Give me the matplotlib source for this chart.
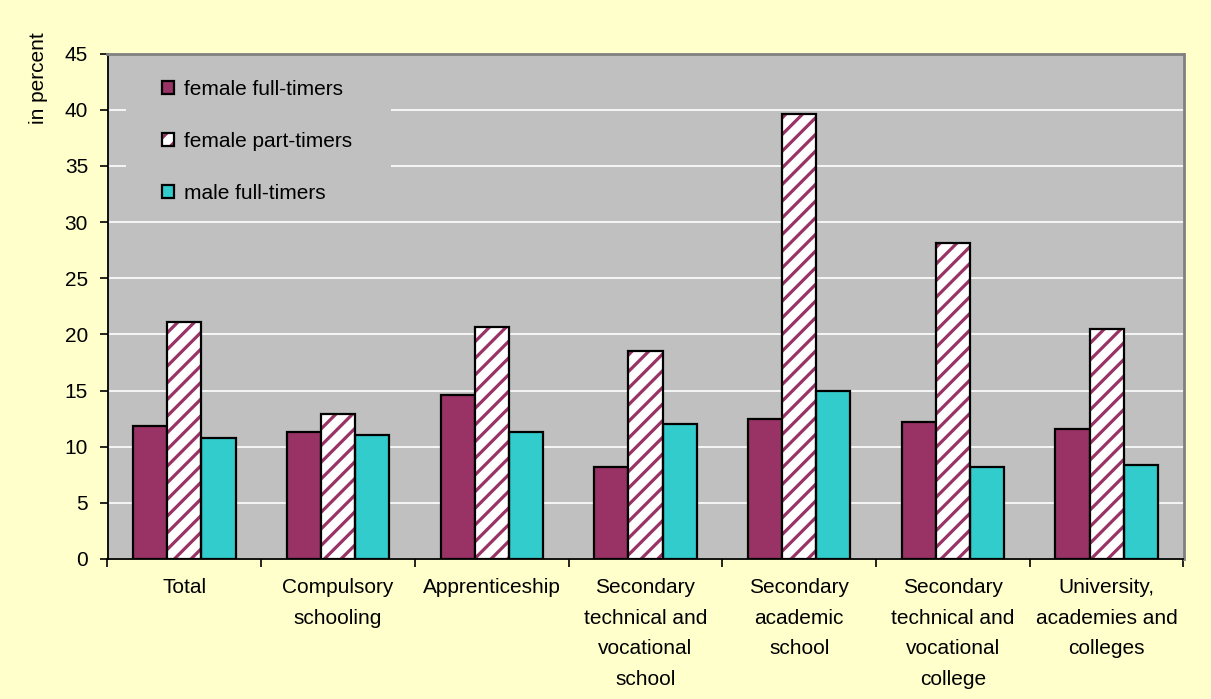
import matplotlib
matplotlib.use("Agg")
import matplotlib.pyplot as plt
import numpy as np
from matplotlib.legend_handler import HandlerTuple
from matplotlib.patches import Rectangle

categories = [
    "Total",
    "Compulsory\nschooling",
    "Apprenticeship",
    "Secondary\ntechnical and\nvocational\nschool",
    "Secondary\nacademic\nschool",
    "Secondary\ntechnical and\nvocational\ncollege",
    "University,\nacademies and\ncolleges",
]
female_full = [11.8, 11.3, 14.6, 8.2, 12.5, 12.2, 11.6]
female_part = [21.1, 12.9, 20.7, 18.5, 39.6, 28.1, 20.5]
male_full = [10.8, 11.0, 11.3, 12.0, 15.0, 8.2, 8.4]
series_labels = ["female full-timers", "female part-timers", "male full-timers"]

plum = "#993366"
teal = "#33CCCC"
plot_bg = "#C0C0C0"
page_bg = "#FFFFCC"

plt.rcParams["font.family"] = ["Liberation Sans", "DejaVu Sans"]
plt.rcParams["hatch.linewidth"] = 2.3
fs = 15

fig = plt.figure(figsize=(12.11, 6.99), dpi=100, facecolor=page_bg)
W, H = 1211, 699
ax = fig.add_axes([107.5 / W, 1 - 559 / H, (1183.5 - 107.5) / W, (559 - 53.7) / H])
ax.set_facecolor(plot_bg)

x = np.arange(len(categories))
bw = 0.222
ax.bar(x - bw, female_full, bw, color=plum, edgecolor="black", linewidth=1.6, zorder=2)
hatch_bars = ax.bar(x, female_part, bw, color="white", edgecolor=plum, hatch="//",
                    linewidth=0, zorder=2)
edge_bars = ax.bar(x, female_part, bw, fill=False, edgecolor="black", linewidth=1.6, zorder=3)
ax.bar(x + bw, male_full, bw, color=teal, edgecolor="black", linewidth=1.6, zorder=2)

ax.set_xlim(-0.5, len(categories) - 0.5)
ax.set_ylim(0, 45)
ax.set_yticks(np.arange(0, 46, 5))
ax.yaxis.grid(True, color="white", linewidth=1.2)
ax.set_axisbelow(True)

ax.set_xticks(np.arange(-0.5, len(categories), 1.0))
ax.set_xticklabels([])
ax.set_xticks(x, minor=True)
ax.set_xticklabels(categories, minor=True, fontsize=fs, linespacing=1.76, va="top")
ax.tick_params(axis="x", which="major", length=6, width=1.2, direction="out")
ax.tick_params(axis="x", which="minor", length=0, pad=14)
ax.tick_params(axis="y", length=6, width=1.2, direction="out", labelsize=fs, pad=8)

for side in ("left", "bottom"):
    ax.spines[side].set_color("black")
    ax.spines[side].set_linewidth(1.3)
for side in ("top", "right"):
    ax.spines[side].set_color("#808080")
    ax.spines[side].set_linewidth(2)

# gray panel behind the legend hides the gridlines there
ax.add_patch(Rectangle((-0.377, 32.0), 1.722, 12.9, facecolor=plot_bg, edgecolor="none",
                       zorder=1))

handles = [ax.containers[0], (hatch_bars, edge_bars), ax.containers[3]]
leg = ax.legend(handles, series_labels, loc="upper left",
                bbox_to_anchor=((164 - 107.5) / (1183.5 - 107.5) - 0.008,
                                1 - (76 - 53.7) / (559 - 53.7) + 0.004),
                frameon=False, fontsize=fs, handlelength=0.6, handleheight=0.6,
                handletextpad=0.45, labelspacing=1.58, borderpad=0.3, borderaxespad=0,
                handler_map={tuple: HandlerTuple(ndivide=1, pad=0)})

fig.text(38 / W, 1 - 78 / H, "in percent", rotation=90, ha="center", va="center", fontsize=fs)

fig.savefig("out.png", dpi=100, facecolor=page_bg)
